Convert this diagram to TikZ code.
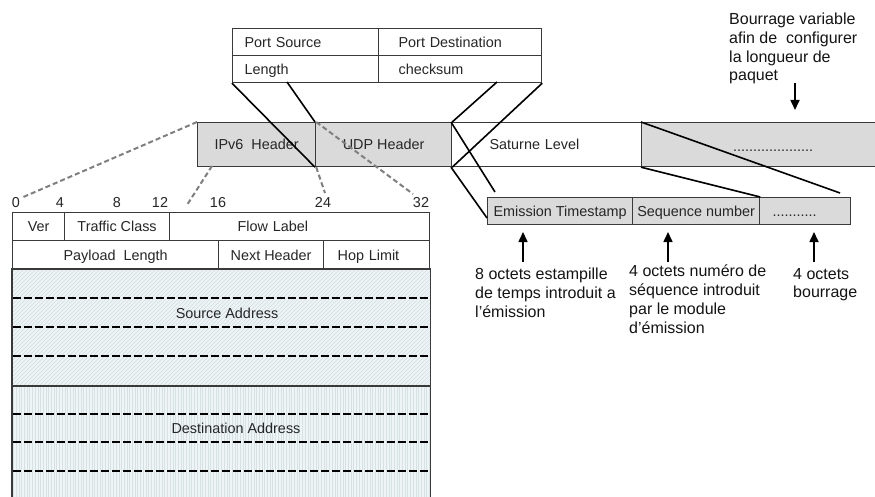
\documentclass[tikz,border=0pt]{standalone}
\usepackage{fontspec}
\setmainfont{Liberation Sans}
\usetikzlibrary{arrows.meta,patterns.meta}

\definecolor{boxgray}{HTML}{DADADA}
\definecolor{boxline}{HTML}{3A3A3A}
\definecolor{ink}{HTML}{262626}
\definecolor{notecol}{HTML}{141414}
\definecolor{dashgray}{HTML}{7F7F7F}
\definecolor{srcfill}{HTML}{EEF4F6}
\definecolor{srchatch}{HTML}{D3DEE2}
\definecolor{dstfill}{HTML}{EFF5F7}
\definecolor{dsthatch}{HTML}{D6E1E4}

\newcommand\boxfnt{\fontsize{14.4pt}{17pt}\selectfont}
\newcommand\notefnt{\fontsize{16pt}{18.7pt}\selectfont}

\begin{document}
\begin{tikzpicture}[x=1pt,y=-1pt,
  cell/.style={draw=boxline, line width=1.2pt, inner sep=0pt, font=\boxfnt,
    text=ink, anchor=north west, text height=10.3pt, text depth=0pt},
  shaded/.style={fill=boxgray},
  link/.style={line width=1.6pt, black},
  dlink/.style={line width=2pt, dashgray, dash pattern=on 5pt off 3pt},
  addrsep/.style={line width=1.8pt, black, dash pattern=on 8pt off 3pt},
  note/.style={font=\notefnt, align=left, anchor=north west, inner sep=0pt, text=notecol},
  bitnum/.style={font=\boxfnt, inner sep=0pt, text=ink, text height=10.3pt, text depth=0pt},
  uparrow/.style={line width=1.6pt, -{Triangle[length=10pt,width=9pt]}},
]
\useasboundingbox (0,0) rectangle (875,497);
\clip (0,0) rectangle (875,497);
\fill[white] (0,0) rectangle (875,497);

% UDP header fields
\node[cell, minimum width=146pt, minimum height=27pt, inner xsep=12pt, text width=122pt, align=left] (psrc) at (232,28) {Port Source};
\node[cell, minimum width=163pt, minimum height=27pt, inner xsep=20pt, text width=123pt, align=left] (pdst) at (378,28) {Port Destination};
\node[cell, minimum width=146pt, minimum height=27pt, inner xsep=12pt, text width=122pt, align=left] (plen) at (232,55) {Length};
\node[cell, minimum width=163pt, minimum height=27pt, inner xsep=20pt, text width=123pt, align=left] (pchk) at (378,55) {checksum};

% packet bar
\node[cell, shaded, minimum width=118pt, minimum height=44pt] (ipv6) at (197,122) {IPv6\ \ Header};
\node[cell, shaded, minimum width=136pt, minimum height=44pt] (udp) at (315,122) {UDP Header};
\node[cell, minimum width=190pt, minimum height=44pt, inner xsep=38pt, text width=114pt, align=left] (sat) at (451,122) {Saturne Level};
\node[cell, shaded, minimum width=240pt, minimum height=44pt] (pad) at (641,122) {};
\node[font=\boxfnt, text=ink, inner sep=0pt, anchor=base] (paddots) at (773,152) {....................};

% Saturne payload fields
\node[cell, shaded, minimum width=145pt, minimum height=27pt] (emts) at (487,197) {Emission Timestamp};
\node[cell, shaded, minimum width=127pt, minimum height=27pt] (seqn) at (632,197) {Sequence number};
\node[cell, shaded, minimum width=91pt, minimum height=27pt, inner xsep=13pt, text width=65pt, align=left] (epad) at (759,197) {...........};

% bit offsets
\node[bitnum] (n0) at (16,202) {0};
\node[bitnum] (n4) at (60,202) {4};
\node[bitnum] (n8) at (117,202) {8};
\node[bitnum] (n12) at (160,202) {12};
\node[bitnum] (n16) at (218,202) {16};
\node[bitnum] (n24) at (323,202) {24};
\node[bitnum] (n32) at (421,202) {32};

% IPv6 header layout
\node[cell, minimum width=52pt, minimum height=28pt] (ver) at (12,212) {Ver};
\node[cell, minimum width=105pt, minimum height=28pt] (tcls) at (64,212) {Traffic Class};
\node[cell, minimum width=260pt, minimum height=28pt, inner xsep=68pt, text width=124pt, align=left] (flab) at (169,212) {Flow Label};
\node[cell, minimum width=206pt, minimum height=29pt] (plod) at (12,240) {Payload\ \ Length};
\node[cell, minimum width=105pt, minimum height=29pt] (nxth) at (218,240) {Next Header};
\node[cell, minimum width=106pt, minimum height=29pt, inner xsep=14pt, text width=78pt, align=left] (hopl) at (323,240) {Hop Limit};

% address fields: light fills with fine hatching
\node[cell, draw=none, fill=srcfill, minimum width=417pt, minimum height=116pt] (srca) at (12,269) {};
\node[cell, draw=none, fill=dstfill, minimum width=417pt, minimum height=130pt] (dsta) at (12,385) {};
\begin{scope}
  \clip (srca.north west) rectangle (srca.south east);
  \foreach \xx in {-120,-116,...,430}
    \draw[srchatch, line width=0.6pt] (\xx,385) -- (\xx+116,269);
\end{scope}
\begin{scope}
  \clip (dsta.north west) rectangle (dsta.south east);
  \foreach \xx in {13.5,16.2,...,430}
    \draw[dsthatch, line width=0.5pt] (\xx,385) -- (\xx,515);
\end{scope}
\draw[boxline, line width=1.2pt] (srca.south west) -- (srca.north west) -- (srca.north east) -- (srca.south east);
\draw[boxline, line width=1.2pt] (dsta.south west) -- (dsta.north west) (dsta.north east) -- (dsta.south east);
\draw[boxline, line width=1.8pt] (srca.south west) -- (srca.south east);
\foreach \yy in {298,327,356,414,442,471}
  \draw[addrsep] (12.6,\yy) -- (429,\yy);
\node[font=\boxfnt, text=ink, inner sep=0pt] (srcl) at (227,313) {Source Address};
\node[font=\boxfnt, text=ink, inner sep=0pt] (dstl) at (236,428) {Destination Address};

% expansion of the IPv6 header
\coordinate (b0) at (21,198);
\coordinate (ipb) at (212,166);
\coordinate (b16) at (187,205);
\coordinate (b24) at (325,193);
\coordinate (b32) at (413,194);
\draw[dlink] (ipv6.north west) -- (b0);
\draw[dlink] (ipb) -- (b16);
\draw[dlink] (ipv6.north east) -- (b32);
\draw[dlink] (ipv6.south east) -- (b24);

% expansion of the UDP header
\coordinate (lenb) at (287,82);
\coordinate (chkb) at (497,82);
\draw[link] (plen.south west) -- (udp.south west);
\draw[link] (lenb) -- (udp.north west);
\draw[link] (chkb) -- (udp.north east);
\draw[link] (pchk.south east) -- (udp.south east);

% expansion of the Saturne payload
\coordinate (tsa) at (495,192);
\coordinate (tsb) at (487,218);
\coordinate (padr) at (840,193);
\draw[link] (sat.north west) -- (tsa);
\draw[link] (sat.south west) -- (tsb);
\draw[link] (pad.north west) -- (padr);
\draw[link] (pad.south west) -- (seqn.north east);

% annotations
\node[note] (ntop) at (729,13) {Bourrage variable\\afin de\ \ configurer\\la longueur de\\paquet};
\node[note] (n1) at (475,268) {8 octets estampille\\de temps introduit a\\l'émission};
\node[note] (n2) at (629,265) {4 octets numéro de\\séquence introduit\\par le module\\d’émission};
\node[note] (n3) at (793,268) {4 octets\\bourrage};

\coordinate (t0) at (795,83);
\coordinate (t1) at (795,110);
\draw[uparrow] (t0) -- (t1);
\coordinate (a1) at (523,262);
\coordinate (a1e) at (523,232);
\coordinate (a2) at (668,262);
\coordinate (a2e) at (668,232);
\coordinate (a3) at (814,262);
\coordinate (a3e) at (814,232);
\draw[uparrow] (a1) -- (a1e);
\draw[uparrow] (a2) -- (a2e);
\draw[uparrow] (a3) -- (a3e);
\end{tikzpicture}
\end{document}
